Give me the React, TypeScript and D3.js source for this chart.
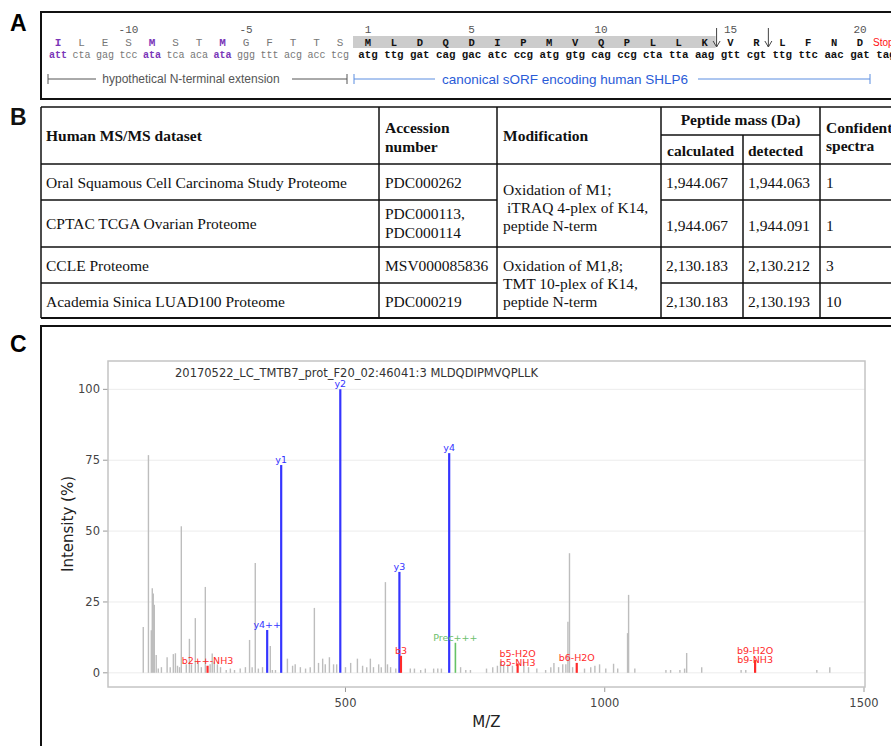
import React from "react";
import * as d3 from "d3";

// ---------- Panel A data ----------
const ntermAA = ["I", "L", "E", "S", "M", "S", "T", "M", "G", "F", "T", "T", "S"];
const ntermCodons = ["att", "cta", "gag", "tcc", "ata", "tca", "aca", "ata", "ggg", "ttt", "acg", "acc", "tcg"];
const ntermStartIdx = [0, 4, 7];
const orfAA = ["M", "L", "D", "Q", "D", "I", "P", "M", "V", "Q", "P", "L", "L", "K", "V", "R", "L", "F", "N", "D"];
const orfCodons = ["atg", "ttg", "gat", "cag", "gac", "atc", "ccg", "atg", "gtg", "cag", "ccg", "cta", "tta", "aag", "gtt", "cgt", "ttg", "ttc", "aac", "gat", "tag"];
const ntermPosLabels = [-10, -5];
const orfPosLabels = [1, 5, 10, 15, 20];
const cleavageAfter = [14, 16];

// ---------- Panel B data ----------
const datasets = ["Oral Squamous Cell Carcinoma Study Proteome", "CPTAC TCGA Ovarian Proteome", "CCLE Proteome", "Academia Sinica LUAD100 Proteome"];
const accessions = [["PDC000262"], ["PDC000113,", "PDC000114"], ["MSV000085836"], ["PDC000219"]];
const modifications = [["Oxidation of M1;", " iTRAQ 4-plex of K14,", "peptide N-term"], ["Oxidation of M1,8;", "TMT 10-plex of K14,", "peptide N-term"]];
const massCalc = ["1,944.067", "1,944.067", "2,130.183", "2,130.183"];
const massDet = ["1,944.063", "1,944.091", "2,130.212", "2,130.193"];
const spectra = ["1", "1", "3", "10"];

// ---------- Panel C data ----------
const grayMz = [
  110, 120, 125.5, 127.4, 129.3, 131.3, 135, 139, 145, 156,
  162, 168, 172, 176, 180, 183.4, 193, 199, 203, 210.4,
  216, 222, 229.7, 239, 243, 247, 253, 259, 270, 278,
  286, 297, 307, 315, 320, 326, 332, 340, 355, 359,
  365, 388, 398, 403, 413, 423, 432, 440, 448, 456,
  461, 469, 477, 483, 500, 510, 523, 533, 541, 548,
  554, 564, 569, 577, 581, 587, 597, 625, 633, 645,
  654, 670, 678, 685, 722, 732, 741, 772, 784, 793,
  799, 805, 813, 822, 844, 853, 869, 886, 896, 902,
  911, 919, 925, 929, 932, 938, 961, 973, 981, 990,
  1002, 1017, 1025, 1044, 1046, 1058, 1118, 1127, 1145, 1154,
  1158, 1187, 1263, 1272, 1409, 1434,
];
const grayInt = [
  16.2, 76.8, 15, 29.8, 28, 24, 6.3, 1.5, 2, 5.5,
  2, 6.6, 6.9, 2.5, 2, 51.7, 3, 12, 3, 19.3,
  4, 2, 30.3, 3, 6.8, 4, 3, 2, 1, 1.5,
  1, 1.5, 2, 11.6, 2, 38.7, 1.5, 2, 9.5, 1,
  1, 5, 2.5, 3, 2, 1.5, 2, 22.9, 3.5, 5,
  3, 5.5, 3, 3, 2, 3.5, 5, 2.5, 2, 5,
  2, 3, 2, 32, 3, 2, 1.5, 1.5, 1.5, 1,
  1.5, 1.5, 1.5, 1.5, 2, 1, 1, 1.5, 2, 2.5,
  4, 3, 3, 2.5, 4, 2, 1.5, 1, 2, 3.5,
  2, 3, 3, 18, 42.2, 2, 1.5, 2, 2.5, 3,
  1.5, 3.2, 1.5, 14, 27.5, 1.5, 1, 1, 1, 1.5,
  7, 2, 1, 1, 1, 2,
];
const ionLabels = [["y1"], ["y2"], ["y3"], ["y4"], ["y4++"], ["b3"], ["Prec+++"], ["b2++-NH3"], ["b5-H2O", "b5-NH3"], ["b6-H2O"], ["b9-H2O", "b9-NH3"]];
const ionMz = [376, 490, 604, 700, 349, 607, 712, 234, 832, 946, 1290];
const ionInt = [73.3, 100, 35.6, 77.5, 15.1, 6, 10.6, 2.5, 3.3, 3.5, 4.5];
const ionType = ["y", "y", "y", "y", "y", "b", "prec", "b", "b", "b", "b"];
const yTicks = [0, 25, 50, 75, 100];
const xTicks = [500, 1000, 1500];
const spectrumTitle = "20170522_LC_TMTB7_prot_F20_02:46041:3 MLDQDIPMVQPLLK";

const ionColor: Record<string, string> = { y: "#3535ff", b: "#ff2a2a", prec: "#66c266" };
const ionTextColor: Record<string, string> = { y: "#3535ff", b: "#ff2a2a", prec: "#6cc06c" };

const MONO = "'Liberation Mono', 'Courier New', monospace";
const SERIF = "'Liberation Serif', 'Times New Roman', serif";
const SANS = "'Liberation Sans', Arial, sans-serif";
const DV = "'DejaVu Sans', Verdana, sans-serif";

function PanelA() {
  const nx = d3.scaleLinear().domain([-13, -1]).range([58, 340]);
  const ox = d3.scaleLinear().domain([1, 20]).range([368, 860]);
  const purple = "#7a36b8";
  const arrow = (xx: number, k: number) => (
    <g key={"ar" + k} stroke="#444" strokeWidth={1} fill="none">
      <line x1={xx} x2={xx} y1={28} y2={47} />
      <polyline points={`${xx - 3.5},${41} ${xx},${47} ${xx + 3.5},${41}`} />
    </g>
  );
  return (
    <g>
      <text x={10} y={31} fontFamily={SANS} fontWeight="bold" fontSize={23}>A</text>
      <rect x={41} y={12} width={900} height={87} fill="none" stroke="#111" strokeWidth={2} />
      <rect x={353} y={36} width={ox(14) - 353 + 11} height={12} fill="#cccccc" />
      {ntermPosLabels.map((p) => (
        <text key={"np" + p} x={nx(p)} y={33} textAnchor="middle" fontFamily={MONO} fontSize={11} fill="#555">{p}</text>
      ))}
      {orfPosLabels.map((p) => (
        <text key={"op" + p} x={ox(p)} y={33} textAnchor="middle" fontFamily={MONO} fontSize={11} fill="#555">{p}</text>
      ))}
      {ntermAA.map((a, i) => {
        const hl = ntermStartIdx.includes(i);
        return (
          <text key={"na" + i} x={nx(i - 13)} y={45.5} textAnchor="middle" fontFamily={MONO} fontSize={11}
            fontWeight={hl ? "bold" : "normal"} fill={hl ? purple : "#777"}>{a}</text>
        );
      })}
      {ntermCodons.map((c, i) => {
        const hl = ntermStartIdx.includes(i);
        return (
          <text key={"nc" + i} x={nx(i - 13)} y={57.5} textAnchor="middle" fontFamily={MONO} fontSize={10}
            fontWeight={hl ? "bold" : "normal"} fill={hl ? purple : "#777"}>{c}</text>
        );
      })}
      {orfAA.map((a, i) => (
        <text key={"oa" + i} x={ox(i + 1)} y={45.5} textAnchor="middle" fontFamily={MONO} fontSize={10.5} fontWeight="bold" fill="#111">{a}</text>
      ))}
      <text x={873} y={45.5} fontFamily={SANS} fontSize={10} fill="#ff1010">Stop</text>
      {orfCodons.map((c, i) => (
        <text key={"oc" + i} x={ox(i + 1)} y={57.5} textAnchor="middle" fontFamily={MONO} fontSize={10.8} fontWeight="bold" fill="#111">{c}</text>
      ))}
      {cleavageAfter.map((p, k) => arrow((ox(p) + ox(p + 1)) / 2 - 1, k))}
      <g stroke="#555" strokeWidth={1}>
        <line x1={48} x2={48} y1={74} y2={84} />
        <line x1={48} x2={96} y1={79} y2={79} />
        <line x1={292} x2={347} y1={79} y2={79} />
        <line x1={347} x2={347} y1={74} y2={84} />
      </g>
      <text x={191} y={83} textAnchor="middle" fontFamily={SANS} fontSize={12} fill="#555">hypothetical N-terminal extension</text>
      <g stroke="#5a8de0" strokeWidth={1}>
        <line x1={354} x2={354} y1={74} y2={84} />
        <line x1={354} x2={435} y1={79} y2={79} />
        <line x1={698} x2={870} y1={79} y2={79} />
        <line x1={870} x2={870} y1={74} y2={84} />
      </g>
      <text x={565} y={83.5} textAnchor="middle" fontFamily={SANS} fontSize={13.5} fill="#2a5bd7">canonical sORF encoding human SHLP6</text>
    </g>
  );
}

function PanelB() {
  const cols = [41, 379, 497, 661, 743, 820];
  const rows = [107, 164, 200, 247, 283, 318];
  const right = 900;
  const fs = 15.5;
  const rowBase = [188, 231, 271, 307];
  return (
    <g fontFamily={SERIF} fill="#111">
      <text x={10} y={125} fontFamily={SANS} fontWeight="bold" fontSize={23}>B</text>
      <g stroke="#111" strokeWidth={1.5}>
        <line x1={cols[0]} x2={right} y1={rows[0]} y2={rows[0]} />
        <line x1={cols[0]} x2={right} y1={rows[1]} y2={rows[1]} />
        <line x1={cols[0]} x2={cols[2]} y1={rows[2]} y2={rows[2]} />
        <line x1={cols[3]} x2={right} y1={rows[2]} y2={rows[2]} />
        <line x1={cols[0]} x2={right} y1={rows[3]} y2={rows[3]} />
        <line x1={cols[0]} x2={cols[2]} y1={rows[4]} y2={rows[4]} />
        <line x1={cols[3]} x2={right} y1={rows[4]} y2={rows[4]} />
        <line x1={cols[0]} x2={right} y1={rows[5]} y2={rows[5]} strokeWidth={2} />
        <line x1={cols[3]} x2={cols[5]} y1={135} y2={135} />
        {[0, 1, 2, 3, 5].map((i) => (
          <line key={"c" + i} x1={cols[i]} x2={cols[i]} y1={rows[0]} y2={rows[5]} />
        ))}
        <line x1={cols[4]} x2={cols[4]} y1={135} y2={rows[5]} />
      </g>
      <g fontWeight="bold" fontSize={fs}>
        <text x={46} y={141}>Human MS/MS dataset</text>
        <text x={385} y={133}>Accession</text>
        <text x={385} y={152}>number</text>
        <text x={503} y={141}>Modification</text>
        <text x={(cols[3] + cols[5]) / 2} y={125} textAnchor="middle">Peptide mass (Da)</text>
        <text x={667} y={156}>calculated</text>
        <text x={748} y={156}>detected</text>
        <text x={826} y={133}>Confident</text>
        <text x={826} y={151}>spectra</text>
      </g>
      <g fontSize={fs}>
        {datasets.map((d, i) => (
          <text key={"d" + i} x={46} y={i === 1 ? 229 : rowBase[i]}>{d}</text>
        ))}
        {accessions.map((a, i) =>
          a.length === 1 ? (
            <text key={"a" + i} x={385} y={rowBase[i]}>{a[0]}</text>
          ) : (
            a.map((s, j) => <text key={"a" + i + j} x={385} y={219 + j * 19}>{s}</text>)
          )
        )}
        {modifications.map((m, g) =>
          m.map((s, j) => (
            <text key={"m" + g + j} x={503} y={(g === 0 ? 195 : 271) + j * 18} style={{ whiteSpace: "pre" }}>{s}</text>
          ))
        )}
        {massCalc.map((v, i) => <text key={"mc" + i} x={666} y={rowBase[i]}>{v}</text>)}
        {massDet.map((v, i) => <text key={"md" + i} x={748} y={rowBase[i]}>{v}</text>)}
        {spectra.map((v, i) => <text key={"s" + i} x={826} y={rowBase[i]}>{v}</text>)}
      </g>
    </g>
  );
}

function PanelC() {
  const x = d3.scaleLinear().domain([42, 1500]).range([108, 864]);
  const y = d3.scaleLinear().domain([-5, 110]).range([687, 361]);
  const left = 108, right = 865, top = 361, bottom = 687;
  return (
    <g>
      <text x={10} y={352} fontFamily={SANS} fontWeight="bold" fontSize={23}>C</text>
      <rect x={41} y={326} width={900} height={500} fill="none" stroke="#111" strokeWidth={2} />
      {yTicks.map((t) => (
        <g key={"yt" + t}>
          <line x1={left} x2={right} y1={y(t)} y2={y(t)} stroke="#ececec" strokeWidth={1} />
          <line x1={left - 5} x2={left} y1={y(t)} y2={y(t)} stroke="#999" strokeWidth={1} />
          <text x={left - 8} y={y(t)} dy="0.36em" textAnchor="end" fontFamily={DV} fontSize={11.5} fill="#444">{t}</text>
        </g>
      ))}
      {xTicks.map((t) => (
        <g key={"xt" + t}>
          <line x1={x(t)} x2={x(t)} y1={bottom} y2={bottom + 5} stroke="#999" strokeWidth={1} />
          <text x={x(t)} y={707} textAnchor="middle" fontFamily={DV} fontSize={11.5} fill="#444">{t}</text>
        </g>
      ))}
      <rect x={left} y={top} width={right - left} height={bottom - top} fill="none" stroke="#c4c4c4" strokeWidth={1.5} />
      <text x={175} y={377} fontFamily={DV} fontSize={11.5} fill="#333">{spectrumTitle}</text>
      {grayMz.map((m, i) => (
        <line key={"g" + i} x1={x(m)} x2={x(m)} y1={y(0)} y2={y(grayInt[i])} stroke="#bdbdbd" strokeWidth={1.4} />
      ))}
      {ionMz.map((m, i) => (
        <line key={"i" + i} x1={x(m)} x2={x(m)} y1={y(0)} y2={y(ionInt[i])} stroke={ionColor[ionType[i]]}
          strokeWidth={ionType[i] === "prec" ? 1.6 : 2.2} />
      ))}
      {ionMz.map((m, i) => {
        const labs = ionLabels[i];
        const topY = y(ionInt[i]);
        return labs.map((l, j) => {
          const base = labs.length === 1 ? topY - 2 : topY - 6.5 + j * 9.5;
          return (
            <text key={"l" + i + j} x={x(m)} y={base} textAnchor="middle" fontFamily={DV} fontSize={9.5}
              fill={ionTextColor[ionType[i]]}>{l}</text>
          );
        });
      })}
      <text x={(left + right) / 2} y={727} textAnchor="middle" fontFamily={DV} fontSize={15} fill="#222">M/Z</text>
      <text transform={`translate(73,${(top + bottom) / 2}) rotate(-90)`} textAnchor="middle" fontFamily={DV} fontSize={15} fill="#222">Intensity (%)</text>
    </g>
  );
}

export default function App() {
  return (
    <svg width={891} height={746} style={{ position: "absolute", left: 0, top: 0, background: "#fff" }}>
      <rect x={0} y={0} width={891} height={746} fill="#fff" />
      <PanelA />
      <PanelB />
      <PanelC />
    </svg>
  );
}
